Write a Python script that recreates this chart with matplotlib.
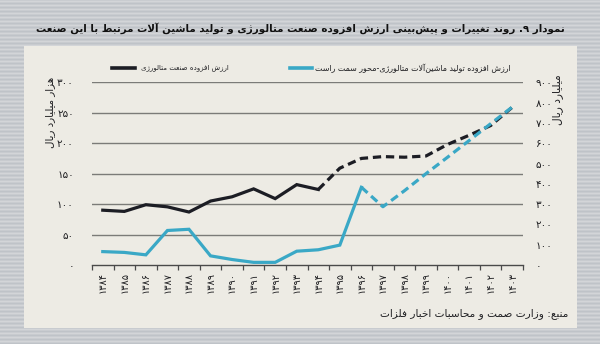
import re
import numpy as np
import matplotlib
matplotlib.use("Agg")
import matplotlib.pyplot as plt
from matplotlib.patches import Rectangle
from matplotlib.lines import Line2D

# ---------------------------------------------------------------- data
years = [1384, 1385, 1386, 1387, 1388, 1389, 1390, 1391, 1392, 1393,
         1394, 1395, 1396, 1397, 1398, 1399, 1400, 1401, 1402, 1403]
# value added of the metallurgy industry (thousand billion rials, left axis)
metal_va = [90, 88, 99, 95.5, 87, 105, 112, 125, 109, 132,
            124, 159, 175, 178, 177, 179, 198, 213, 229, 259]
# value added of metallurgy machinery production (billion rials, right axis)
machinery_va = [66, 62, 50, 170, 176, 45, 27, 13, 13, 68,
                75, 98, 383, 287, 366, 450, 531, 613, 696, 778]
metal_last_actual = 1394       # dashed (forecast) after this year
machinery_last_actual = 1396
left_ticks = [0, 50, 100, 150, 200, 250, 300]
right_ticks = [0, 100, 200, 300, 400, 500, 600, 700, 800, 900]

title_txt = "نمودار ۹. روند تغییرات و پیش\u200cبینی ارزش افزوده صنعت متالورژی و تولید ماشین آلات مرتبط با این صنعت"
legend_metal = "ارزش افزوده صنعت متالورژی"
legend_machinery = "ارزش افزوده تولید ماشین\u200cآلات متالورژی-محور سمت راست"
left_label = "هزار میلیارد ریال"
right_label = "میلیارد ریال"
source_txt = "منبع: وزارت صمت و محاسبات اخبار فلزات"

# ---------------------------------------------------------------- Arabic-script shaping
_FORMS = {
    '\u0627': ('\uFE8D', '\uFE8E', None, None),
    '\u0622': ('\uFE81', '\uFE82', None, None),
    '\u0628': ('\uFE8F', '\uFE90', '\uFE91', '\uFE92'),
    '\u067E': ('\uFB56', '\uFB57', '\uFB58', '\uFB59'),
    '\u062A': ('\uFE95', '\uFE96', '\uFE97', '\uFE98'),
    '\u062D': ('\uFEA1', '\uFEA2', '\uFEA3', '\uFEA4'),
    '\u062E': ('\uFEA5', '\uFEA6', '\uFEA7', '\uFEA8'),
    '\u062F': ('\uFEA9', '\uFEAA', None, None),
    '\u0631': ('\uFEAD', '\uFEAE', None, None),
    '\u0632': ('\uFEAF', '\uFEB0', None, None),
    '\u0698': ('\uFB8A', '\uFB8B', None, None),
    '\u0633': ('\uFEB1', '\uFEB2', '\uFEB3', '\uFEB4'),
    '\u0634': ('\uFEB5', '\uFEB6', '\uFEB7', '\uFEB8'),
    '\u0635': ('\uFEB9', '\uFEBA', '\uFEBB', '\uFEBC'),
    '\u0637': ('\uFEC1', '\uFEC2', '\uFEC3', '\uFEC4'),
    '\u0639': ('\uFEC9', '\uFECA', '\uFECB', '\uFECC'),
    '\u063A': ('\uFECD', '\uFECE', '\uFECF', '\uFED0'),
    '\u0641': ('\uFED1', '\uFED2', '\uFED3', '\uFED4'),
    '\u0644': ('\uFEDD', '\uFEDE', '\uFEDF', '\uFEE0'),
    '\u0645': ('\uFEE1', '\uFEE2', '\uFEE3', '\uFEE4'),
    '\u0646': ('\uFEE5', '\uFEE6', '\uFEE7', '\uFEE8'),
    '\u0647': ('\uFEE9', '\uFEEA', '\uFEEB', '\uFEEC'),
    '\u0648': ('\uFEED', '\uFEEE', None, None),
    '\u06CC': ('\uFBFC', '\uFBFD', '\uFBFE', '\uFBFF'),
}
_LAM_ALEF = {'\u0627': ('\uFEFB', '\uFEFC'), '\u0622': ('\uFEF5', '\uFEF6')}


def _kind(u):
    if isinstance(u, tuple):
        return 'R'
    f = _FORMS.get(u)
    if f is None:
        return 'U'
    return 'D' if f[2] else 'R'


def fa(s):
    """Shape Persian text into presentation forms in visual order."""
    units, i = [], 0
    while i < len(s):
        if s[i] == '\u0644' and i + 1 < len(s) and s[i + 1] in _LAM_ALEF:
            units.append(('LA', s[i + 1]))
            i += 2
        else:
            units.append(s[i])
            i += 1
    out = []
    n = len(units)
    for i, u in enumerate(units):
        k = _kind(u)
        if k == 'U':
            if u != '\u200c':
                out.append(u)
            continue
        jp = i > 0 and _kind(units[i - 1]) == 'D'
        jn = k == 'D' and i + 1 < n and _kind(units[i + 1]) in ('D', 'R')
        if isinstance(u, tuple):
            out.append(_LAM_ALEF[u[1]][1 if jp else 0])
            continue
        iso, fin, ini, med = _FORMS[u]
        out.append(med if (jp and jn) else fin if jp else ini if jn else iso)
    vis = ''.join(out)[::-1]
    return re.sub(r'[0-9\u06F0-\u06F9]+', lambda m: m.group(0)[::-1], vis)


_DIG = str.maketrans('0123456789', '۰۱۲۳۴۵۶۷۸۹')


def fa_num(v):
    return str(v).translate(_DIG)


# ---------------------------------------------------------------- figure
W, H = 600, 344
BG = '#c6c9cd'
PANEL = '#edebe4'
INK = '#1f1f22'
BLACK_LINE = '#1c1d24'
CYAN = '#3aa8c6'
GRID = '#7b7b78'

plt.rcParams['font.family'] = ['DejaVu Sans']
fig = plt.figure(figsize=(W / 100, H / 100), dpi=100)
fig.patch.set_facecolor(BG)
renderer = fig.canvas.get_renderer()

# striped backdrop
bg_ax = fig.add_axes([0, 0, 1, 1], zorder=-10)
rows = np.arange(H)
stripe = 0.5 + 0.5 * np.sin(rows * 2 * np.pi / 4.0)
img = np.repeat(stripe[:, None], 8, axis=1)
bg_ax.imshow(img, cmap=matplotlib.colors.LinearSegmentedColormap.from_list(
    'bgs', ['#bfc3c8', '#d3d5d8']), aspect='auto', extent=[0, 1, 0, 1],
    interpolation='nearest')
bg_ax.set_axis_off()


def fx(px):
    return px / W


def fy(py):
    return 1 - py / H


def fit_text(t, length_px, vertical=False):
    """Scale a text's font size so its long side spans length_px pixels."""
    for _ in range(3):
        bb = t.get_window_extent(renderer)
        cur = bb.height if vertical else bb.width
        t.set_fontsize(t.get_fontsize() * length_px / cur)
    return t


fig.patches.append(Rectangle((fx(24), fy(328)), fx(577) - fx(24), fy(46) - fy(328),
                             transform=fig.transFigure, facecolor=PANEL,
                             edgecolor='none', zorder=-5))

title = fig.text(fx(300), fy(29), fa(title_txt), ha='center', va='center',
                 fontsize=9, fontweight='bold', color='#111111')
fit_text(title, 522)

ax = fig.add_axes([fx(92), fy(265), fx(523) - fx(92), fy(82.3) - fy(265)])
ax.patch.set_visible(False)
x = np.arange(len(years))
ax.set_xlim(-0.5, len(years) - 0.5)
ax.set_ylim(left_ticks[0], left_ticks[-1])

for v in left_ticks[1:]:
    ax.axhline(v, color=GRID, lw=1.0, zorder=1)

for s in ('top', 'left', 'right'):
    ax.spines[s].set_visible(False)
ax.spines['bottom'].set_color('#4a4a4a')
ax.spines['bottom'].set_linewidth(1.0)

ax.set_xticks(np.arange(-0.5, len(years)), [''] * (len(years) + 1))
ax.tick_params(axis='x', which='major', length=3.5, width=0.9, color='#4a4a4a', direction='out')
ax.set_xticks(x, [fa_num(y) for y in years], minor=True)
ax.tick_params(axis='x', which='minor', length=0, pad=5, labelsize=7, labelrotation=90,
               labelcolor=INK)
for lab in ax.get_xticklabels(minor=True):
    lab.set_va('top')

ax.set_yticks(left_ticks, [fa_num(v) for v in left_ticks])
ax.tick_params(axis='y', length=0, pad=13, labelsize=7.5, labelcolor=INK)

ax2 = ax.twinx()
ax2.set_ylim(right_ticks[0], right_ticks[-1])
for s in ('top', 'left', 'right', 'bottom'):
    ax2.spines[s].set_visible(False)
ax2.set_yticks(right_ticks, [fa_num(v) for v in right_ticks])
ax2.tick_params(axis='y', length=0, pad=9, labelsize=7.5, labelcolor=INK)
ax2.patch.set_visible(False)

lw = 2.3
dash = (2.6, 1.5)
km = years.index(metal_last_actual)
ax.plot(x[:km + 1], metal_va[:km + 1], color=BLACK_LINE, lw=lw, zorder=4,
        solid_joinstyle='miter')
ax.plot(x[km:], metal_va[km:], color=BLACK_LINE, lw=lw, zorder=4,
        linestyle=(0, dash), dash_capstyle='butt')

kc = years.index(machinery_last_actual)
ax2.plot(x[:kc + 1], machinery_va[:kc + 1], color=CYAN, lw=lw, zorder=3,
         solid_joinstyle='miter')
ax2.plot(x[kc:], machinery_va[kc:], color=CYAN, lw=lw, zorder=3,
         linestyle=(0, dash), dash_capstyle='butt')

# axis titles
lt = fig.text(fx(50), fy(77), fa(left_label), rotation=90, ha='center', va='top',
              fontsize=8, color=INK)
fit_text(lt, 71, vertical=True)
rt = fig.text(fx(558), fy(74), fa(right_label), rotation=90, ha='center', va='top',
              fontsize=8, color=INK)
fit_text(rt, 51, vertical=True)

# legend (right-to-left: swatch sits at the left end of each entry)
fig.add_artist(Line2D([fx(112), fx(135)], [fy(68), fy(68)], color=BLACK_LINE, lw=2.6,
                      transform=fig.transFigure))
t1 = fig.text(fx(141), fy(68), fa(legend_metal), ha='left', va='center', fontsize=6,
              color=INK)
fit_text(t1, 86)
fig.add_artist(Line2D([fx(290), fx(312)], [fy(68), fy(68)], color=CYAN, lw=2.6,
                      transform=fig.transFigure))
t2 = fig.text(fx(511), fy(68), fa(legend_machinery), ha='right', va='center', fontsize=7,
              color=INK)
fit_text(t2, 196)

src = fig.text(fx(568), fy(314), fa(source_txt), ha='right', va='center', fontsize=7.5,
               color=INK)
fit_text(src, 186)

fig.savefig('out.png', dpi=100, facecolor=fig.get_facecolor())
